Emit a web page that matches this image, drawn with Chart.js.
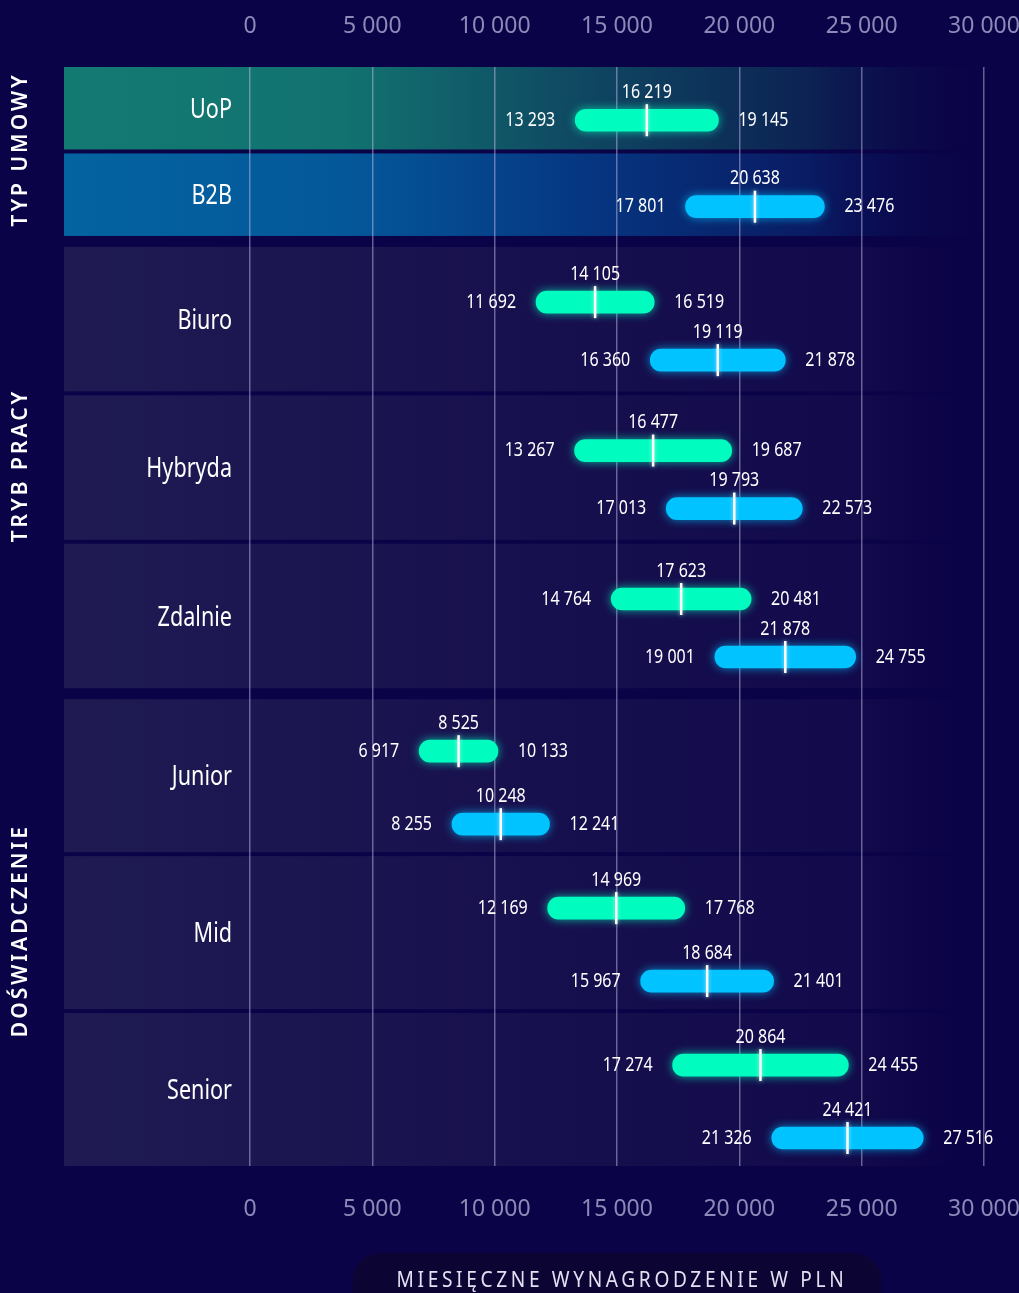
<!DOCTYPE html>
<html lang="pl">
<head>
<meta charset="utf-8">
<title>Wynagrodzenia</title>
<script src="https://cdn.jsdelivr.net/npm/chart.js@4.4.1/dist/chart.umd.min.js"></script>
<style>
    html, body { margin: 0; padding: 0; background: #0b0347; }
    #kontener { width: 1019px; height: 1293px; position: relative; }
</style>
</head>
<body>
<div id="kontener"><canvas id="wykres"></canvas></div>
<script>
// dane
let kategorie = ["UoP", "B2B", "Biuro", "Hybryda", "Zdalnie", "Junior", "Mid", "Senior"];
let sekcje = ["TYP UMOWY", "TRYB PRACY", "DOŚWIADCZENIE"];
let sekcjaWiersza = [0, 0, 1, 1, 1, 2, 2, 2];

let uopMin = [13293, null, 11692, 13267, 14764, 6917, 12169, 17274];
let uopMed = [16219, null, 14105, 16477, 17623, 8525, 14969, 20864];
let uopMax = [19145, null, 16519, 19687, 20481, 10133, 17768, 24455];

let b2bMin = [null, 17801, 16360, 17013, 19001, 8255, 15967, 21326];
let b2bMed = [null, 20638, 19119, 19793, 21878, 10248, 18684, 24421];
let b2bMax = [null, 23476, 21878, 22573, 24755, 12241, 21401, 27516];

let osX = [0, 5000, 10000, 15000, 20000, 25000, 30000];
let tytulOsi = "MIESIĘCZNE WYNAGRODZENIE W PLN";

// wyglad
let kolorUop = "#00fcbf";
let kolorB2b = "#00c3ff";
let rodzina = "'Noto Sans', 'DejaVu Sans', sans-serif";
let zwezenie = 0.8;
let wysokoscWiersza = [82.5, 144.5, 153];
let odstepSlupkow = [0, 58, 73];
let przerwaWiersz = 4;
let przerwaSekcja = 11;

// uklad wierszy w jednostkach osi y
let wiersze = [];
let pozY = 0;
for (let i = 0; i < kategorie.length; i++) {
    let s = sekcjaWiersza[i];
    if (i > 0) pozY += (s !== sekcjaWiersza[i - 1]) ? przerwaSekcja : przerwaWiersz;
    let h = wysokoscWiersza[s];
    wiersze.push({ gora: pozY, dol: pozY + h, srodek: pozY + h / 2 });
    pozY += h;
}
let calkowita = pozY;

function pozycjaSlupka(i, seria) {
    let w = wiersze[i];
    let polowa = odstepSlupkow[sekcjaWiersza[i]] / 2;
    let podwojny = uopMin[i] !== null && b2bMin[i] !== null;
    if (!podwojny) return w.srodek + 12;
    return w.srodek + 12 + (seria === 0 ? -polowa : polowa);
}

function formatuj(v) {
    return String(v).replace(/\B(?=(\d{3})+(?!\d))/g, " ");
}

function zbudujSerie(mins, maxs, seria) {
    let out = [];
    for (let i = 0; i < kategorie.length; i++) {
        if (mins[i] === null) continue;
        out.push({ x: [mins[i], maxs[i]], y: pozycjaSlupka(i, seria), idx: i });
    }
    return out;
}

// tekst zwezony w poziomie (brak fontu condensed)
function tekstWaski(ctx, str, x, y, align, skala) {
    ctx.save();
    ctx.translate(x, y);
    ctx.scale(skala || zwezenie, 1);
    ctx.textAlign = align;
    ctx.textBaseline = "middle";
    ctx.fillText(str, 0, 0);
    ctx.restore();
}

let tlo = {
    id: "tlo",
    beforeDraw(chart) {
        let ctx = chart.ctx;
        let obszar = chart.chartArea;
        let y = chart.scales.y;
        ctx.save();
        ctx.fillStyle = "#0b0347";
        ctx.fillRect(0, 0, chart.width, chart.height);

        let lewa = 64;
        let prawa = obszar.right + 15;
        for (let i = 0; i < kategorie.length; i++) {
            let g = y.getPixelForValue(wiersze[i].gora);
            let d = y.getPixelForValue(wiersze[i].dol);
            let grad = ctx.createLinearGradient(lewa, 0, prawa, 0);
            if (i === 0) {
                grad.addColorStop(0, "#137a72");
                grad.addColorStop(0.3, "#127270");
                grad.addColorStop(0.55, "#0f4862");
                grad.addColorStop(0.8, "#0c2253");
                grad.addColorStop(1, "rgba(11,3,71,0)");
            } else if (i === 1) {
                grad.addColorStop(0, "#0463a1");
                grad.addColorStop(0.3, "#04589a");
                grad.addColorStop(0.55, "#063782");
                grad.addColorStop(0.8, "#091b63");
                grad.addColorStop(1, "rgba(11,3,71,0)");
            } else {
                grad.addColorStop(0, "#1f1b52");
                grad.addColorStop(0.5, "#17104e");
                grad.addColorStop(0.85, "#120a4b");
                grad.addColorStop(1, "rgba(11,3,71,0)");
            }
            ctx.fillStyle = grad;
            ctx.fillRect(lewa, g, prawa - lewa, d - g);

            ctx.fillStyle = "#ffffff";
            ctx.font = "27px " + rodzina;
            tekstWaski(ctx, kategorie[i], 232, (g + d) / 2 + 2, "right");
        }

        // etykiety sekcji
        ctx.font = "600 21px 'Noto Sans', 'Open Sans', sans-serif";
        ctx.letterSpacing = "3px";
        for (let s = 0; s < sekcje.length; s++) {
            let nr = sekcjaWiersza.map((v, k) => v === s ? k : -1).filter(k => k >= 0);
            let g = y.getPixelForValue(wiersze[nr[0]].gora);
            let d = y.getPixelForValue(wiersze[nr[nr.length - 1]].dol);
            ctx.save();
            ctx.translate(21, (g + d) / 2);
            ctx.rotate(-Math.PI / 2);
            ctx.textAlign = "center";
            ctx.textBaseline = "middle";
            ctx.fillStyle = "#ffffff";
            ctx.fillText(sekcje[s], 2, 0);
            ctx.restore();
        }
        ctx.letterSpacing = "0px";
        ctx.restore();
    },
    beforeDatasetDraw(chart, args) {
        let ctx = chart.ctx;
        ctx.save();
        ctx.shadowColor = args.index === 0 ? "rgba(0,252,191,0.7)" : "rgba(0,195,255,0.7)";
        ctx.shadowBlur = 10;
    },
    afterDatasetDraw(chart) {
        chart.ctx.restore();
    },
    afterDatasetsDraw(chart) {
        let ctx = chart.ctx;
        let x = chart.scales.x;
        let serie = [[uopMin, uopMed, uopMax], [b2bMin, b2bMed, b2bMax]];
        ctx.save();
        for (let d = 0; d < 2; d++) {
            let meta = chart.getDatasetMeta(d);
            meta.data.forEach(function (bar, k) {
                let i = chart.data.datasets[d].data[k].idx;
                let mn = serie[d][0][i], md = serie[d][1][i], mx = serie[d][2][i];
                let by = bar.y;
                let px = x.getPixelForValue(md);

                ctx.shadowColor = "rgba(255,255,255,0.6)";
                ctx.shadowBlur = 4;
                ctx.strokeStyle = "#ffffff";
                ctx.lineWidth = 2.5;
                ctx.beginPath();
                ctx.moveTo(px, by - 16);
                ctx.lineTo(px, by + 16);
                ctx.stroke();
                ctx.shadowBlur = 0;

                ctx.fillStyle = "#ffffff";
                ctx.font = "20px " + rodzina;
                tekstWaski(ctx, formatuj(md), px, by - 28, "center");
                tekstWaski(ctx, formatuj(mn), x.getPixelForValue(mn) - 20, by, "right");
                tekstWaski(ctx, formatuj(mx), x.getPixelForValue(mx) + 20, by, "left");
            });
        }
        ctx.restore();
    },
    afterDraw(chart) {
        let ctx = chart.ctx;
        let obszar = chart.chartArea;
        let srodek = (obszar.left + obszar.right) / 2;
        ctx.save();
        let szer = 529, gora = 1253, r = 28;
        ctx.fillStyle = "#0c0534";
        ctx.beginPath();
        ctx.roundRect(srodek - szer / 2, gora, szer, 80, r);
        ctx.fill();
        ctx.fillStyle = "#e2e0f2";
        ctx.font = "21px " + rodzina;
        ctx.letterSpacing = "4px";
        tekstWaski(ctx, tytulOsi, srodek + 5, 1281, "center", 0.91);
        ctx.restore();
    }
};

function tickiX(pad) {
    return {
        color: "#8e8ab8",
        font: { family: rodzina, size: 23 },
        padding: pad,
        callback: function (v) { return formatuj(v); }
    };
}

function dopasujOs(wys) {
    return function (s) {
        s.height = wys;
        s.paddingLeft = 0;
        s.paddingRight = 0;
    };
}

let wykres = new Chart(document.getElementById("wykres"), {
    type: "bar",
    data: {
        datasets: [
            {
                label: "UoP",
                data: zbudujSerie(uopMin, uopMax, 0),
                backgroundColor: kolorUop
            },
            {
                label: "B2B",
                data: zbudujSerie(b2bMin, b2bMax, 1),
                backgroundColor: kolorB2b
            }
        ]
    },
    options: {
        indexAxis: "y",
        responsive: true,
        maintainAspectRatio: false,
        animation: false,
        events: [],
        layout: { padding: { top: 0, right: 35, bottom: 0, left: 250 } },
        datasets: {
            bar: {
                grouped: false,
                barThickness: 22,
                borderRadius: 11,
                borderSkipped: false
            }
        },
        scales: {
            x: {
                type: "linear",
                position: "top",
                min: osX[0],
                max: osX[osX.length - 1],
                afterBuildTicks: function (s) { s.ticks = osX.map(v => ({ value: v })); },
                afterFit: dopasujOs(67),
                ticks: tickiX(27),
                grid: { color: "rgba(190,185,230,0.5)", lineWidth: 1.5, drawTicks: false },
                border: { display: false }
            },
            x2: {
                type: "linear",
                position: "bottom",
                min: osX[0],
                max: osX[osX.length - 1],
                afterBuildTicks: function (s) { s.ticks = osX.map(v => ({ value: v })); },
                afterFit: dopasujOs(127),
                ticks: tickiX(30),
                grid: { display: false, drawTicks: false },
                border: { display: false }
            },
            y: {
                type: "linear",
                reverse: true,
                offset: false,
                min: 0,
                max: calkowita,
                display: false
            }
        },
        plugins: {
            legend: { display: false },
            tooltip: { enabled: false }
        }
    },
    plugins: [tlo]
});
</script>
</body>
</html>
